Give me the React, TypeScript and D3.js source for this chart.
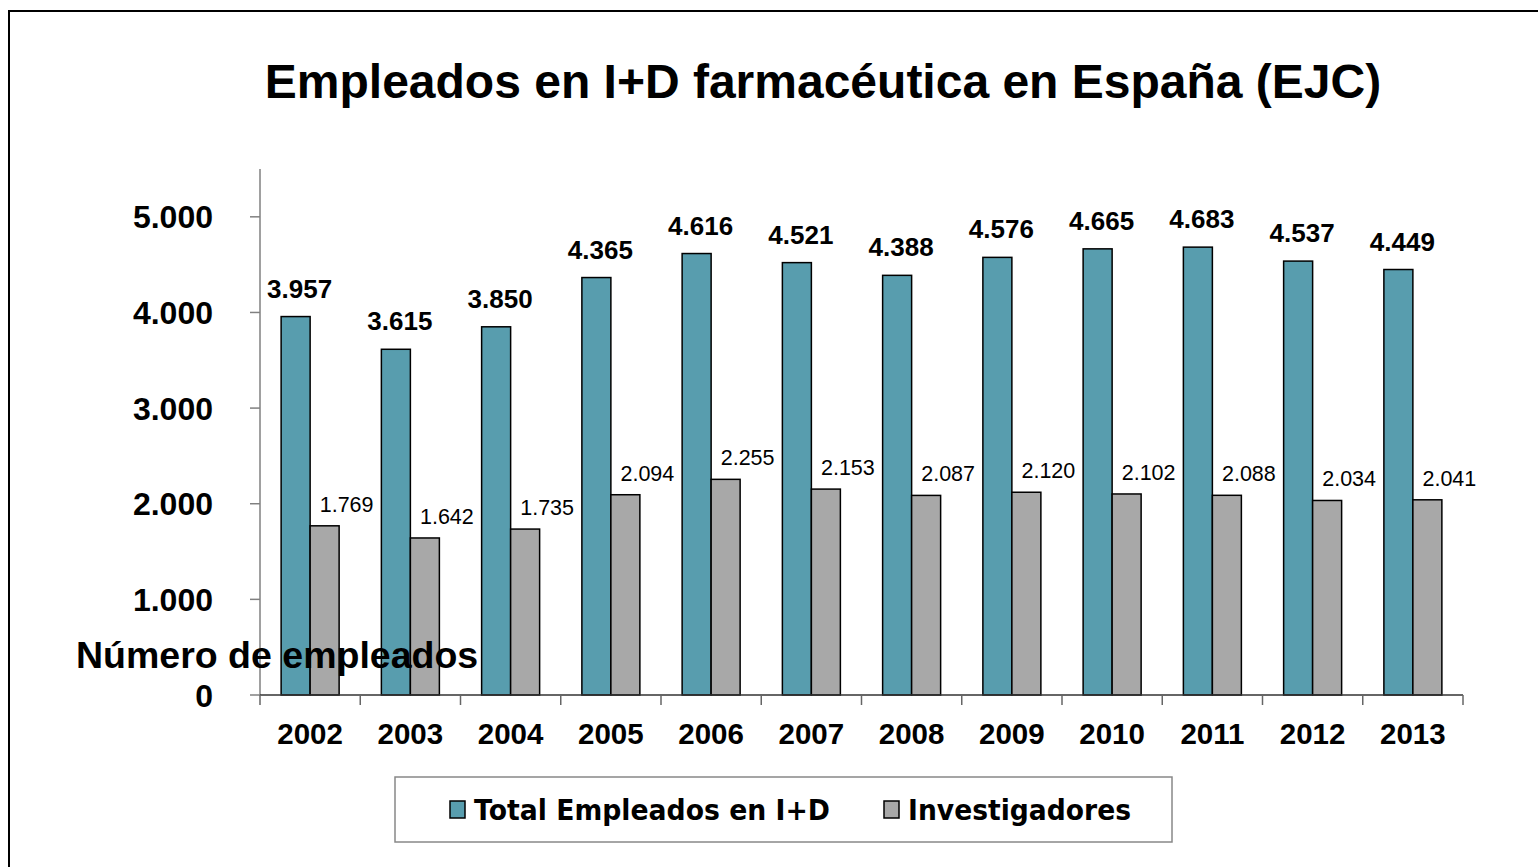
import React from "react"
import * as d3 from "d3"

// datos
const years = ["2002", "2003", "2004", "2005", "2006", "2007", "2008", "2009", "2010", "2011", "2012", "2013"]
const totalEmpleados = [3957, 3615, 3850, 4365, 4616, 4521, 4388, 4576, 4665, 4683, 4537, 4449]
const investigadores = [1769, 1642, 1735, 2094, 2255, 2153, 2087, 2120, 2102, 2088, 2034, 2041]
const yTicks = [0, 1000, 2000, 3000, 4000, 5000]
const seriesNames = ["Total Empleados en I+D", "Investigadores"]

const BLUE = "#589dae"
const GREY = "#a8a8a8"
const FONT = "'Liberation Sans', Arial, Helvetica, sans-serif"

const fmt = (v: number) => d3.format(",")(v).replace(/,/g, ".")

export default function App() {
  const width = 1538
  const height = 867
  const plot = { left: 260, right: 1463, top: 169, bottom: 695 }

  const x = d3.scaleBand<string>().domain(years).range([plot.left, plot.right]).padding(0)
  const y = d3.scaleLinear().domain([0, 5500]).range([plot.bottom, plot.top])
  const barW = 29
  const sub = d3.scaleBand<number>().domain([0, 1]).range([0, barW * 2])
  const groupOffset = (x.bandwidth() - barW * 2) / 2

  return (
    <div style={{ position: "absolute", left: 0, top: 0 }}>
      <svg width={width} height={height} style={{ display: "block", fontFamily: FONT }}>
        <rect x={0} y={0} width={width} height={height} fill="#fff" />
        <rect x={9} y={11} width={1560} height={900} fill="none" stroke="#000" strokeWidth={2} />

        <text x={823} y={98} textAnchor="middle" fontSize={48} fontWeight="bold">
          Empleados en I+D farmacéutica en España (EJC)
        </text>

        {/* eje Y */}
        <line x1={plot.left} x2={plot.left} y1={plot.top} y2={plot.bottom} stroke="#808080" strokeWidth={1.5} />
        {yTicks.map(t => (
          <g key={t}>
            <line x1={plot.left - 10} x2={plot.left} y1={y(t)} y2={y(t)} stroke="#808080" strokeWidth={1.5} />
            <text x={213} y={y(t)} dy="0.36em" textAnchor="end" fontSize={32} fontWeight="bold">
              {fmt(t)}
            </text>
          </g>
        ))}

        {/* barras */}
        {years.map((yr, i) => {
          const gx = (x(yr) as number) + groupOffset
          const vals = [totalEmpleados[i], investigadores[i]]
          return (
            <g key={yr}>
              {vals.map((v, s) => (
                <rect
                  key={s}
                  x={gx + (sub(s) as number)}
                  y={y(v)}
                  width={sub.bandwidth()}
                  height={y(0) - y(v)}
                  fill={s === 0 ? BLUE : GREY}
                  stroke="#000"
                  strokeWidth={1.5}
                />
              ))}
              <text
                x={gx + (sub(0) as number) + barW / 2 + 4}
                y={y(vals[0]) - 19}
                textAnchor="middle"
                fontSize={26}
                fontWeight="bold"
              >
                {fmt(vals[0])}
              </text>
              <text
                x={gx + (sub(1) as number) + barW / 2 + 22}
                y={y(vals[1]) - 14}
                textAnchor="middle"
                fontSize={21.5}
              >
                {fmt(vals[1])}
              </text>
            </g>
          )
        })}

        {/* eje X */}
        <line x1={plot.left} x2={plot.right} y1={plot.bottom} y2={plot.bottom} stroke="#333" strokeWidth={1.5} />
        {years.concat(["end"]).map((yr, i) => {
          const tx = plot.left + i * x.step()
          return <line key={"t" + i} x1={tx} x2={tx} y1={plot.bottom} y2={plot.bottom + 10} stroke="#666" strokeWidth={1.5} />
        })}
        {years.map(yr => (
          <text key={"l" + yr} x={(x(yr) as number) + x.bandwidth() / 2} y={744} textAnchor="middle" fontSize={29.5} fontWeight="bold">
            {yr}
          </text>
        ))}

        <text x={76} y={668} fontSize={37.5} fontWeight="bold">
          Número de empleados
        </text>

        {/* leyenda */}
        <rect x={395} y={777} width={777} height={65} fill="#fff" stroke="#888" strokeWidth={1.5} />
        {seriesNames.map((name, s) => {
          const lx = s === 0 ? 450 : 884
          const tl = s === 0 ? 356 : 223
          return (
            <g key={name}>
              <rect x={lx} y={801} width={15} height={17} fill={s === 0 ? BLUE : GREY} stroke="#000" strokeWidth={1.5} />
              <text
                x={lx + 24}
                y={820}
                fontSize={29}
                fontWeight="bold"
                fontFamily="'DejaVu Sans', Verdana, sans-serif"
                textLength={tl}
                lengthAdjust="spacingAndGlyphs"
              >
                {name}
              </text>
            </g>
          )
        })}
      </svg>
    </div>
  )
}
